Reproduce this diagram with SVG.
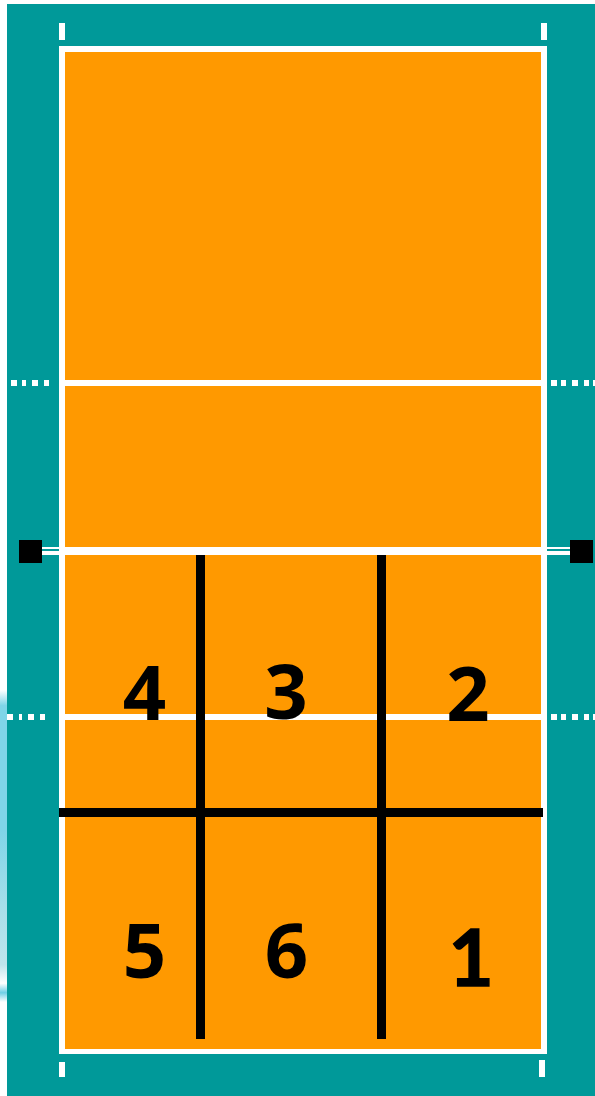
<svg xmlns="http://www.w3.org/2000/svg" width="595" height="1096" viewBox="0 0 595 1096">
<style>
.w{fill:#fff}.k{fill:#000}
.n{font-family:"Open Sans","Liberation Sans",sans-serif;font-weight:700;font-size:76px;text-anchor:middle;fill:#000}
.one{font-family:"Lato","Open Sans","Liberation Sans",sans-serif;font-size:78px;stroke:#000;stroke-width:1.500px}
</style>
<defs>
<linearGradient id="sky" x1="0" y1="0" x2="0" y2="1">
<stop offset="0" stop-color="#fff"/><stop offset=".05" stop-color="#7fd5e8"/><stop offset=".45" stop-color="#7fd5e8"/><stop offset=".7" stop-color="#a8dfea"/><stop offset=".88" stop-color="#bfe5ec"/><stop offset=".94" stop-color="#fff"/><stop offset=".97" stop-color="#6fd0e6"/><stop offset="1" stop-color="#fff"/>
</linearGradient>
</defs>
<rect width="595" height="1096" fill="#fff"/>
<rect id="sky-strip" x="0" y="690" width="7" height="312" fill="url(#sky)"/>
<rect id="surround" x="7" y="4" width="588" height="1092" fill="#009999"/>
<g id="court">
<rect x="59" y="46" width="488" height="1008" class="w"/>
<rect x="65" y="52" width="476" height="997" fill="#ff9900"/>
<rect x="65" y="380" width="476" height="6" class="w"/>
<rect x="65" y="547" width="476" height="8" class="w"/>
<rect x="65" y="714" width="476" height="6" class="w"/>
</g>
<g id="ticks">
<rect x="59" y="23" width="6" height="17" class="w"/>
<rect x="541" y="23" width="6" height="17" class="w"/>
<rect x="59" y="1062" width="6" height="15" class="w"/>
<rect x="539" y="1060" width="6" height="17" class="w"/>
</g>
<g id="dashes">
<rect x="11" y="380" width="6" height="6" class="w"/><rect x="22" y="380" width="4" height="6" class="w"/><rect x="32" y="380" width="6" height="6" class="w"/><rect x="44" y="380" width="5" height="6" class="w"/>
<rect x="551" y="380" width="6" height="6" class="w"/><rect x="561" y="380" width="5" height="6" class="w"/><rect x="572" y="380" width="6" height="6" class="w"/><rect x="584" y="380" width="5" height="6" class="w"/><rect x="593" y="380" width="2" height="6" class="w"/>
<rect x="7" y="714" width="6" height="6" class="w"/><rect x="19" y="714" width="3" height="6" class="w"/><rect x="28" y="714" width="6" height="6" class="w"/><rect x="40" y="714" width="5" height="6" class="w"/>
<rect x="551" y="714" width="6" height="6" class="w"/><rect x="561" y="714" width="5" height="6" class="w"/><rect x="572" y="714" width="6" height="6" class="w"/><rect x="584" y="714" width="5" height="6" class="w"/><rect x="593" y="714" width="2" height="6" class="w"/>
</g>
<g id="net">
<rect x="42" y="547" width="17" height="2" class="w"/><rect x="42" y="551" width="17" height="4" class="w"/>
<rect x="547" y="547" width="23" height="2" class="w"/><rect x="547" y="551" width="23" height="4" class="w"/>
<rect id="post-left" x="19" y="540" width="23" height="23" class="k"/>
<rect id="post-right" x="570" y="540" width="23" height="23" class="k"/>
</g>
<g id="zones">
<rect x="196" y="555" width="9" height="484" class="k"/>
<rect x="377" y="555" width="9" height="484" class="k"/>
<rect x="59" y="808" width="484" height="9" class="k"/>
</g>
<g id="labels">
<text class="n" x="144.500" y="720">4</text>
<text class="n" x="286" y="719">3</text>
<text class="n" x="468" y="721">2</text>
<text class="n" x="144.500" y="978">5</text>
<text class="n" x="286.500" y="978">6</text>
<text class="n one" x="471" y="986">1</text>
</g>
</svg>
